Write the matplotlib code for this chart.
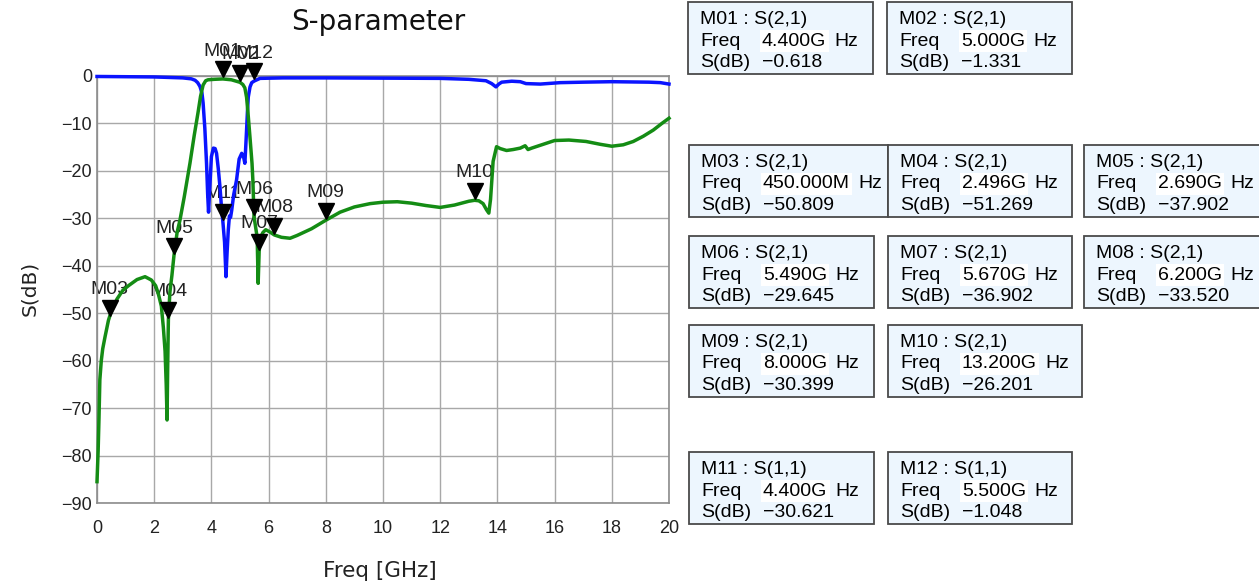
import matplotlib.pyplot as plt
from matplotlib.patches import Rectangle
from matplotlib.transforms import offset_copy

plt.rcParams['font.family'] = ['Liberation Sans', 'DejaVu Sans']

# S(2,1) trace (GHz, dB)
s21_freq = [0.0, 0.04, 0.07, 0.1, 0.15, 0.2, 0.28, 0.4, 0.51, 0.7, 0.9, 1.1, 1.4, 1.68,
            1.9, 2.05, 2.14, 2.25, 2.32, 2.38, 2.42, 2.45, 2.47, 2.496, 2.55, 2.62, 2.69,
            2.8, 2.9, 3.05, 3.25, 3.4, 3.53, 3.62, 3.71, 3.8, 3.88, 4.1, 4.4, 4.7, 5.0,
            5.1, 5.17, 5.23, 5.28, 5.35, 5.42, 5.45, 5.49, 5.55, 5.6, 5.635, 5.67, 5.72,
            5.8, 5.9, 6.05, 6.2, 6.45, 6.75, 7.0, 7.5, 8.0, 8.5, 9.0, 9.55, 10.0, 10.5,
            11.0, 11.5, 12.0, 12.5, 13.0, 13.2, 13.35, 13.5, 13.62, 13.7, 13.76, 13.85,
            13.97, 14.1, 14.32, 14.55, 14.8, 14.97, 15.07, 15.2, 15.5, 16.0, 16.5, 17.1,
            17.6, 18.0, 18.4, 18.75, 19.1, 19.45, 19.75, 20.0]
s21_db = [-85.5, -79, -72, -64, -60, -57.5, -55, -51.5, -49.4, -47, -45.2, -44.2, -42.9, -42.3,
          -43, -44.2, -45.8, -48.5, -53, -58, -65, -72.5, -62, -51.3, -45.5, -42, -37.9,
          -33, -30.4, -25.5, -18.4, -12.5, -7.8, -4.3, -1.9, -1.0, -0.8, -0.7, -0.62, -0.8, -1.33,
          -1.8, -2.5, -4.5, -7.8, -13, -18.4, -22, -29.6, -32, -34, -43.7, -36.9, -34,
          -33, -32.4, -32.9, -33.5, -34.0, -34.2, -33.6, -32.2, -30.4, -28.7, -27.6, -26.9, -26.6, -26.5,
          -26.8, -27.3, -27.7, -27.2, -26.4, -26.2, -26.3, -26.9, -28.2, -28.9, -26, -18,
          -14.9, -15.3, -15.7, -15.5, -15.2, -14.7, -15.5, -15.2, -14.6, -13.6, -13.5, -13.8,
          -14.4, -14.8, -14.5, -13.8, -12.7, -11.4, -10.0, -8.9]

# S(1,1) trace
s11_freq = [0.0, 1.0, 2.0, 3.0, 3.3, 3.43, 3.52, 3.6, 3.67, 3.71, 3.77, 3.83, 3.87, 3.9, 3.94,
            4.0, 4.07, 4.13, 4.18, 4.24, 4.3, 4.36, 4.4, 4.46, 4.51, 4.55, 4.59, 4.63, 4.67,
            4.71, 4.78, 4.88, 4.97, 5.06, 5.13, 5.17, 5.2, 5.23, 5.26, 5.29, 5.35, 5.41, 5.5,
            5.7, 6.5, 8.0, 10.0, 12.0, 13.0, 13.6, 13.8, 13.95, 14.05, 14.15, 14.5, 14.8,
            15.0, 15.5, 16.2, 17.0, 18.0, 19.3, 19.7, 20.0]
s11_db = [-0.1, -0.15, -0.2, -0.4, -0.6, -0.9, -1.4, -2.2, -3.6, -5.7, -11, -18.4, -25, -28.7, -24,
          -17, -15.2, -15.3, -16.3, -19.5, -23.4, -28.3, -30.6, -35, -42.3, -37, -32.5, -29.5, -29.8,
          -28.3, -25, -21.9, -17.5, -16.3, -17.2, -18.4, -15, -11.4, -7.5, -4.4, -2.3, -1.4, -1.05,
          -0.5, -0.4, -0.4, -0.45, -0.5, -0.7, -1.0, -1.6, -2.3, -1.7, -1.3, -1.1, -1.2,
          -1.6, -1.7, -1.4, -1.3, -1.2, -1.3, -1.4, -1.7]

# marker table
marker_names = ['M01', 'M02', 'M03', 'M04', 'M05', 'M06', 'M07', 'M08', 'M09', 'M10', 'M11', 'M12']
marker_traces = ['S(2,1)'] * 10 + ['S(1,1)'] * 2
marker_freq = [4.4, 5.0, 0.45, 2.496, 2.69, 5.49, 5.67, 6.2, 8.0, 13.2, 4.4, 5.5]
marker_freq_text = ['4.400G', '5.000G', '450.000M', '2.496G', '2.690G', '5.490G', '5.670G',
                    '6.200G', '8.000G', '13.200G', '4.400G', '5.500G']
marker_db = [-0.618, -1.331, -50.809, -51.269, -37.902, -29.645, -36.902, -33.520,
             -30.399, -26.201, -30.621, -1.048]

# box layout in pixels: left, top, width
box_layout = [(688, 2, 185), (887, 2, 185),
              (689, 145, 199), (888, 145, 184), (1084, 145, 200),
              (689, 236, 185), (888, 236, 184), (1084, 236, 200),
              (689, 325, 185), (888, 325, 194),
              (689, 452, 185), (888, 452, 184)]

fig = plt.figure(figsize=(12.59, 5.81), dpi=100)
ax = fig.add_axes([97 / 1259, 1 - 503 / 581, 572 / 1259, 427 / 581])

ax.plot(s11_freq, s11_db, color='#0a14ff', lw=2.5, zorder=3, clip_on=False)
ax.plot(s21_freq, s21_db, color='#148c14', lw=2.5, zorder=3, clip_on=False)

tip = offset_copy(ax.transData, fig=fig, y=9.5, units='dots')
for name, f, db in zip(marker_names, marker_freq, marker_db):
    ax.plot(f, db, marker='v', ms=12, color='black', lw=0, transform=tip,
            zorder=5, clip_on=False)
    ax.annotate(name, xy=(f, db), xytext=(0, 23), textcoords='offset pixels',
                ha='center', va='baseline', fontsize=14, color='#222222',
                family=['Liberation Sans Narrow', 'DejaVu Sans Condensed', 'Liberation Sans'],
                zorder=2, annotation_clip=False)

ax.set_xlim(0, 20)
ax.set_ylim(-90, 0)
ax.set_xticks(range(0, 21, 2))
ax.set_yticks(range(-90, 1, 10))
ax.grid(True, color='#a8a8a8', lw=1.0)
ax.set_axisbelow(True)
for sp in ax.spines.values():
    sp.set_color('#8c8c8c')
    sp.set_linewidth(1.2)
ax.tick_params(axis='x', length=0, labelsize=13, pad=12, colors='#222222')
ax.tick_params(axis='y', length=0, labelsize=13, pad=3.6, colors='#222222')

ax.set_title('S-parameter', fontsize=20, family='DejaVu Sans', x=0.491, y=1.088,
             va='baseline', color='#111111')
ax.set_xlabel('Freq [GHz]', fontsize=15.5, family='DejaVu Sans', color='#222222', va='baseline')
ax.xaxis.set_label_coords((380 - 97) / 572, (503 - 577) / 427)
ax.set_ylabel('S(dB)', fontsize=14.5, family='DejaVu Sans', color='#222222', va='center')
ax.yaxis.set_label_coords((30 - 97) / 572, (503 - 288) / 427)

# marker readout boxes, pixel coordinates
bx = fig.add_axes([0, 0, 1, 1])
bx.set_xlim(0, 1259)
bx.set_ylim(581, 0)
bx.axis('off')
fs = 14
for i, name in enumerate(marker_names):
    left, top, w = box_layout[i]
    bx.add_patch(Rectangle((left, top), w, 72, facecolor='#edf6fe', edgecolor='#4a4a4a',
                           lw=1.3, clip_on=False))
    bx.text(left + 12, top + 22, f'{name} : {marker_traces[i]}', fontsize=fs, va='baseline')
    bx.text(left + 12, top + 43.5, 'Freq', fontsize=fs, va='baseline')
    t = bx.text(left + 74, top + 43.5, marker_freq_text[i], fontsize=fs, va='baseline',
                bbox=dict(facecolor='white', edgecolor='none', pad=1.5))
    bx.annotate('Hz', xy=(1, 0), xycoords=t, xytext=(8, 0), textcoords='offset pixels',
                fontsize=fs, va='bottom')
    bx.text(left + 12, top + 65, 'S(dB)', fontsize=fs, va='baseline')
    bx.text(left + 74, top + 65, f'{marker_db[i]:.3f}'.replace('-', '\u2212'),
            fontsize=fs, va='baseline')

fig.savefig('out.png', dpi=100)
